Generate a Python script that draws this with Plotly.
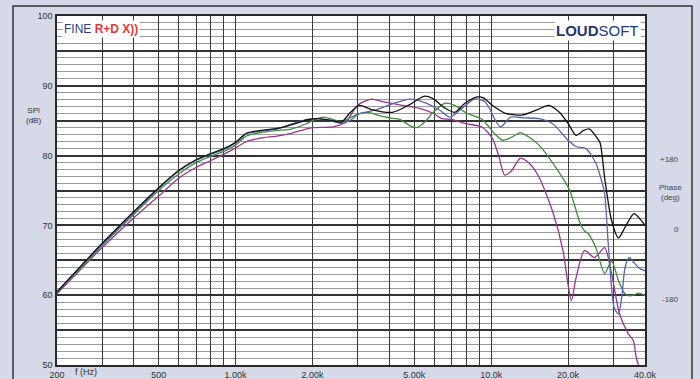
import plotly.graph_objects as go

# ---- measured SPL curves (frequency in Hz, level in dB) ----
freq_black = [200, 300, 400, 500, 600, 700, 800, 900, 1000, 1100, 1250, 1450, 1650, 1900, 2100,
              2400, 2600, 2800, 3050, 3400, 4100, 4800, 5450, 5900, 6600, 7200, 7900, 8800, 9300,
              10100, 11300, 13200, 15000, 16800, 18500, 20000, 21500, 23000, 24300, 26000, 26700,
              27900, 29600, 31500, 33500, 36200, 38500, 40000]
spl_black = [60.5, 67.4, 72.0, 75.4, 77.9, 79.4, 80.3, 81.0, 81.9, 83.2, 83.6, 83.9, 84.4, 85.1, 85.3,
             85.0, 84.8, 86.1, 87.2, 86.6, 86.2, 87.3, 88.5, 88.2, 86.8, 86.2, 87.5, 88.4, 88.3,
             87.2, 86.1, 85.8, 86.5, 87.2, 86.2, 84.6, 82.9, 83.6, 83.8, 82.5, 81.8,
             76.4, 70.7, 68.2, 69.8, 71.7, 70.8, 70.0]

freq_blue = [200, 300, 400, 500, 600, 700, 800, 900, 1000, 1100, 1250, 1450, 1650, 1900, 2100, 2300,
             2600, 2800, 3050, 3500, 4100, 4800, 5500, 6300, 6900, 7700, 8600, 9400, 9800, 10400,
             10900, 11900, 13500, 15400, 17500, 20000, 21500, 23500, 25700, 27000, 27800, 28800,
             30300, 31500, 32500, 33400, 34700, 36000, 37900, 40000]
spl_blue = [60.4, 67.3, 71.8, 75.3, 77.8, 79.3, 80.2, 80.9, 81.8, 83.1, 83.5, 83.8, 84.5, 85.2, 85.3, 85.1,
            84.6, 85.0, 86.0, 86.5, 87.4, 88.1, 87.6, 86.5, 85.5, 86.8, 88.1, 87.8, 86.9, 85.0,
            84.1, 85.5, 85.4, 85.3, 84.5, 82.2, 81.3, 81.0, 78.9, 76.5, 74.6, 66.8,
            58.2, 57.3, 60.0, 63.9, 65.4, 64.8, 63.9, 63.5]

freq_green = [200, 300, 400, 500, 600, 700, 800, 900, 1000, 1100, 1250, 1450, 1650, 1900, 2000, 2200,
              2400, 2600, 2800, 3050, 3300, 3600, 4000, 4400, 4800, 5100, 5500, 5900, 6600, 7200,
              8000, 9200, 10400, 11100, 12000, 13000, 14000, 15400, 17900, 20300, 22300, 23200,
              24000, 25700, 27800, 29600, 31500, 33400, 35000, 38000, 40000]
spl_green = [60.3, 67.1, 71.6, 75.0, 77.4, 79.0, 79.9, 80.6, 81.5, 82.8, 83.3, 83.6, 83.8, 84.6, 85.0, 85.5,
             85.2, 84.8, 85.4, 86.0, 86.2, 85.8, 85.4, 85.2, 84.3, 84.0, 84.8, 86.1, 87.5, 87.2,
             86.1, 85.2, 83.0, 82.2, 82.6, 83.3, 82.7, 81.5, 78.3, 75.0, 70.3, 69.2,
             68.8, 66.8, 63.1, 64.9, 62.1, 60.2, 59.9, 60.3, 59.9]

freq_magenta = [200, 300, 400, 500, 600, 700, 800, 900, 1000, 1100, 1250, 1450, 1650, 2000, 2400, 2700,
                3000, 3400, 3800, 4500, 5200, 5900, 6400, 7000, 7900, 9200, 10100, 10700, 11300,
                12000, 13000, 14000, 15400, 17500, 19100, 20000, 20600, 21500, 23200, 25400, 27800,
                29600, 31800, 34400, 36000, 37000, 38500]
spl_magenta = [60.2, 66.8, 71.1, 74.2, 76.8, 78.3, 79.3, 80.2, 81.1, 82.0, 82.5, 82.8, 83.2, 84.0, 84.1, 84.8,
               87.2, 88.1, 87.7, 87.2, 86.8, 86.1, 85.3, 85.2, 84.6, 84.1, 82.5, 80.0, 77.2,
               77.8, 79.6, 79.0, 76.9, 71.7, 66.4, 61.5, 59.2, 62.5, 66.4, 65.4, 66.8,
               63.1, 57.3, 54.5, 53.5, 51.0, 49.0]

# ---- axis ticks ----
grid_freqs = [200, 300, 400, 500, 600, 700, 800, 900, 1000,
              2000, 3000, 4000, 5000, 6000, 7000, 8000, 9000, 10000,
              20000, 30000, 40000]
freq_labels = {200: "200", 500: "500", 1000: "1.00k", 2000: "2.00k", 5000: "5.00k",
               10000: "10.0k", 20000: "20.0k", 40000: "40.0k"}
spl_ticks = [50, 55, 60, 65, 70, 75, 80, 85, 90, 95, 100]
spl_labels = {50: "50", 60: "60", 70: "70", 80: "80", 90: "90", 100: "100"}
phase_labels = [("+180", 80), ("0", 70), ("-180", 60)]

W, H = 700, 379
L, R, T, B = 57, 55, 16, 14
PW, PH = W - L - R, H - T - B


def px(xp):
    return (xp - L) / PW


def py(yp):
    return 1 - (yp - T) / PH


FONT = "Liberation Sans, Arial, sans-serif"

fig = go.Figure()
for f, s, c in [(freq_magenta, spl_magenta, "#9b3591"),
                (freq_green, spl_green, "#3f8c3f"),
                (freq_blue, spl_blue, "#5867aa"),
                (freq_black, spl_black, "#111111")]:
    fig.add_trace(go.Scatter(x=f, y=s, mode="lines",
                             line=dict(color=c, width=1.3, shape="spline", smoothing=0.7),
                             hoverinfo="skip", showlegend=False))

fig.update_xaxes(type="log", range=[2.30103, 4.60206],
                 tickmode="array", tickvals=grid_freqs,
                 ticktext=[freq_labels.get(v, "") for v in grid_freqs],
                 showgrid=True, gridcolor="#3c3c3c", gridwidth=1.4,
                 showline=True, linecolor="#2a2a2a", linewidth=1.5, mirror=True,
                 ticks="", tickfont=dict(family=FONT, size=9, color="#333"),
                 zeroline=False, automargin=False)
fig.update_yaxes(range=[50, 100], tickmode="array", tickvals=spl_ticks,
                 ticktext=[spl_labels.get(v, "") for v in spl_ticks],
                 showgrid=True, gridcolor="#333333", gridwidth=1.8,
                 minor=dict(tickmode="linear", tick0=50, dtick=1, showgrid=True,
                            gridcolor="#9a9a9a", gridwidth=1),
                 showline=True, linecolor="#2a2a2a", linewidth=1.5, mirror=True,
                 ticks="", tickfont=dict(family=FONT, size=9, color="#333"),
                 zeroline=False, automargin=False, ticklabelstandoff=1)

annotations = [
    dict(x=px(62), y=py(29), xref="paper", yref="paper", xanchor="left", yanchor="middle",
         text="FINE <b><span style='color:#e23a3a'>R+D X))</span></b>",
         font=dict(family=FONT, size=12, color="#2c3f7c"), bgcolor="white", showarrow=False,
         borderpad=1),
    dict(x=px(641), y=py(30), xref="paper", yref="paper", xanchor="right", yanchor="middle",
         text="<b>LOUD</b>SOFT", font=dict(family=FONT, size=15, color="#27386e"),
         bgcolor="white", showarrow=False, borderpad=1),
    dict(x=px(33), y=py(115), xref="paper", yref="paper", xanchor="center", yanchor="middle",
         text="SPl<br>(dB)", font=dict(family=FONT, size=8, color="#333"), showarrow=False),
    dict(x=px(86), y=py(372), xref="paper", yref="paper", xanchor="center", yanchor="middle",
         text="f (Hz)", font=dict(family=FONT, size=9, color="#333"), showarrow=False),
    dict(x=px(670), y=py(192), xref="paper", yref="paper", xanchor="center", yanchor="middle",
         text="Phase<br>(deg)", font=dict(family=FONT, size=8, color="#444"), showarrow=False),
]
for txt, level in phase_labels:
    annotations.append(dict(x=px(681), y=level, xref="paper", yref="y", xanchor="right",
                            yanchor="middle", text=txt, yshift=-4,
                            font=dict(family=FONT, size=8, color="#444"), showarrow=False))

fig.update_layout(
    width=W, height=H, margin=dict(l=L, r=R, t=T, b=B, autoexpand=False),
    paper_bgcolor="#d5d9e8", plot_bgcolor="white",
    annotations=annotations,
    shapes=[dict(type="rect", xref="paper", yref="paper",
                 x0=px(13), x1=px(692), y0=py(384), y1=py(6),
                 line=dict(color="#333", width=1.5), fillcolor="rgba(0,0,0,0)", layer="above")],
)

fig.write_html("out.html")
